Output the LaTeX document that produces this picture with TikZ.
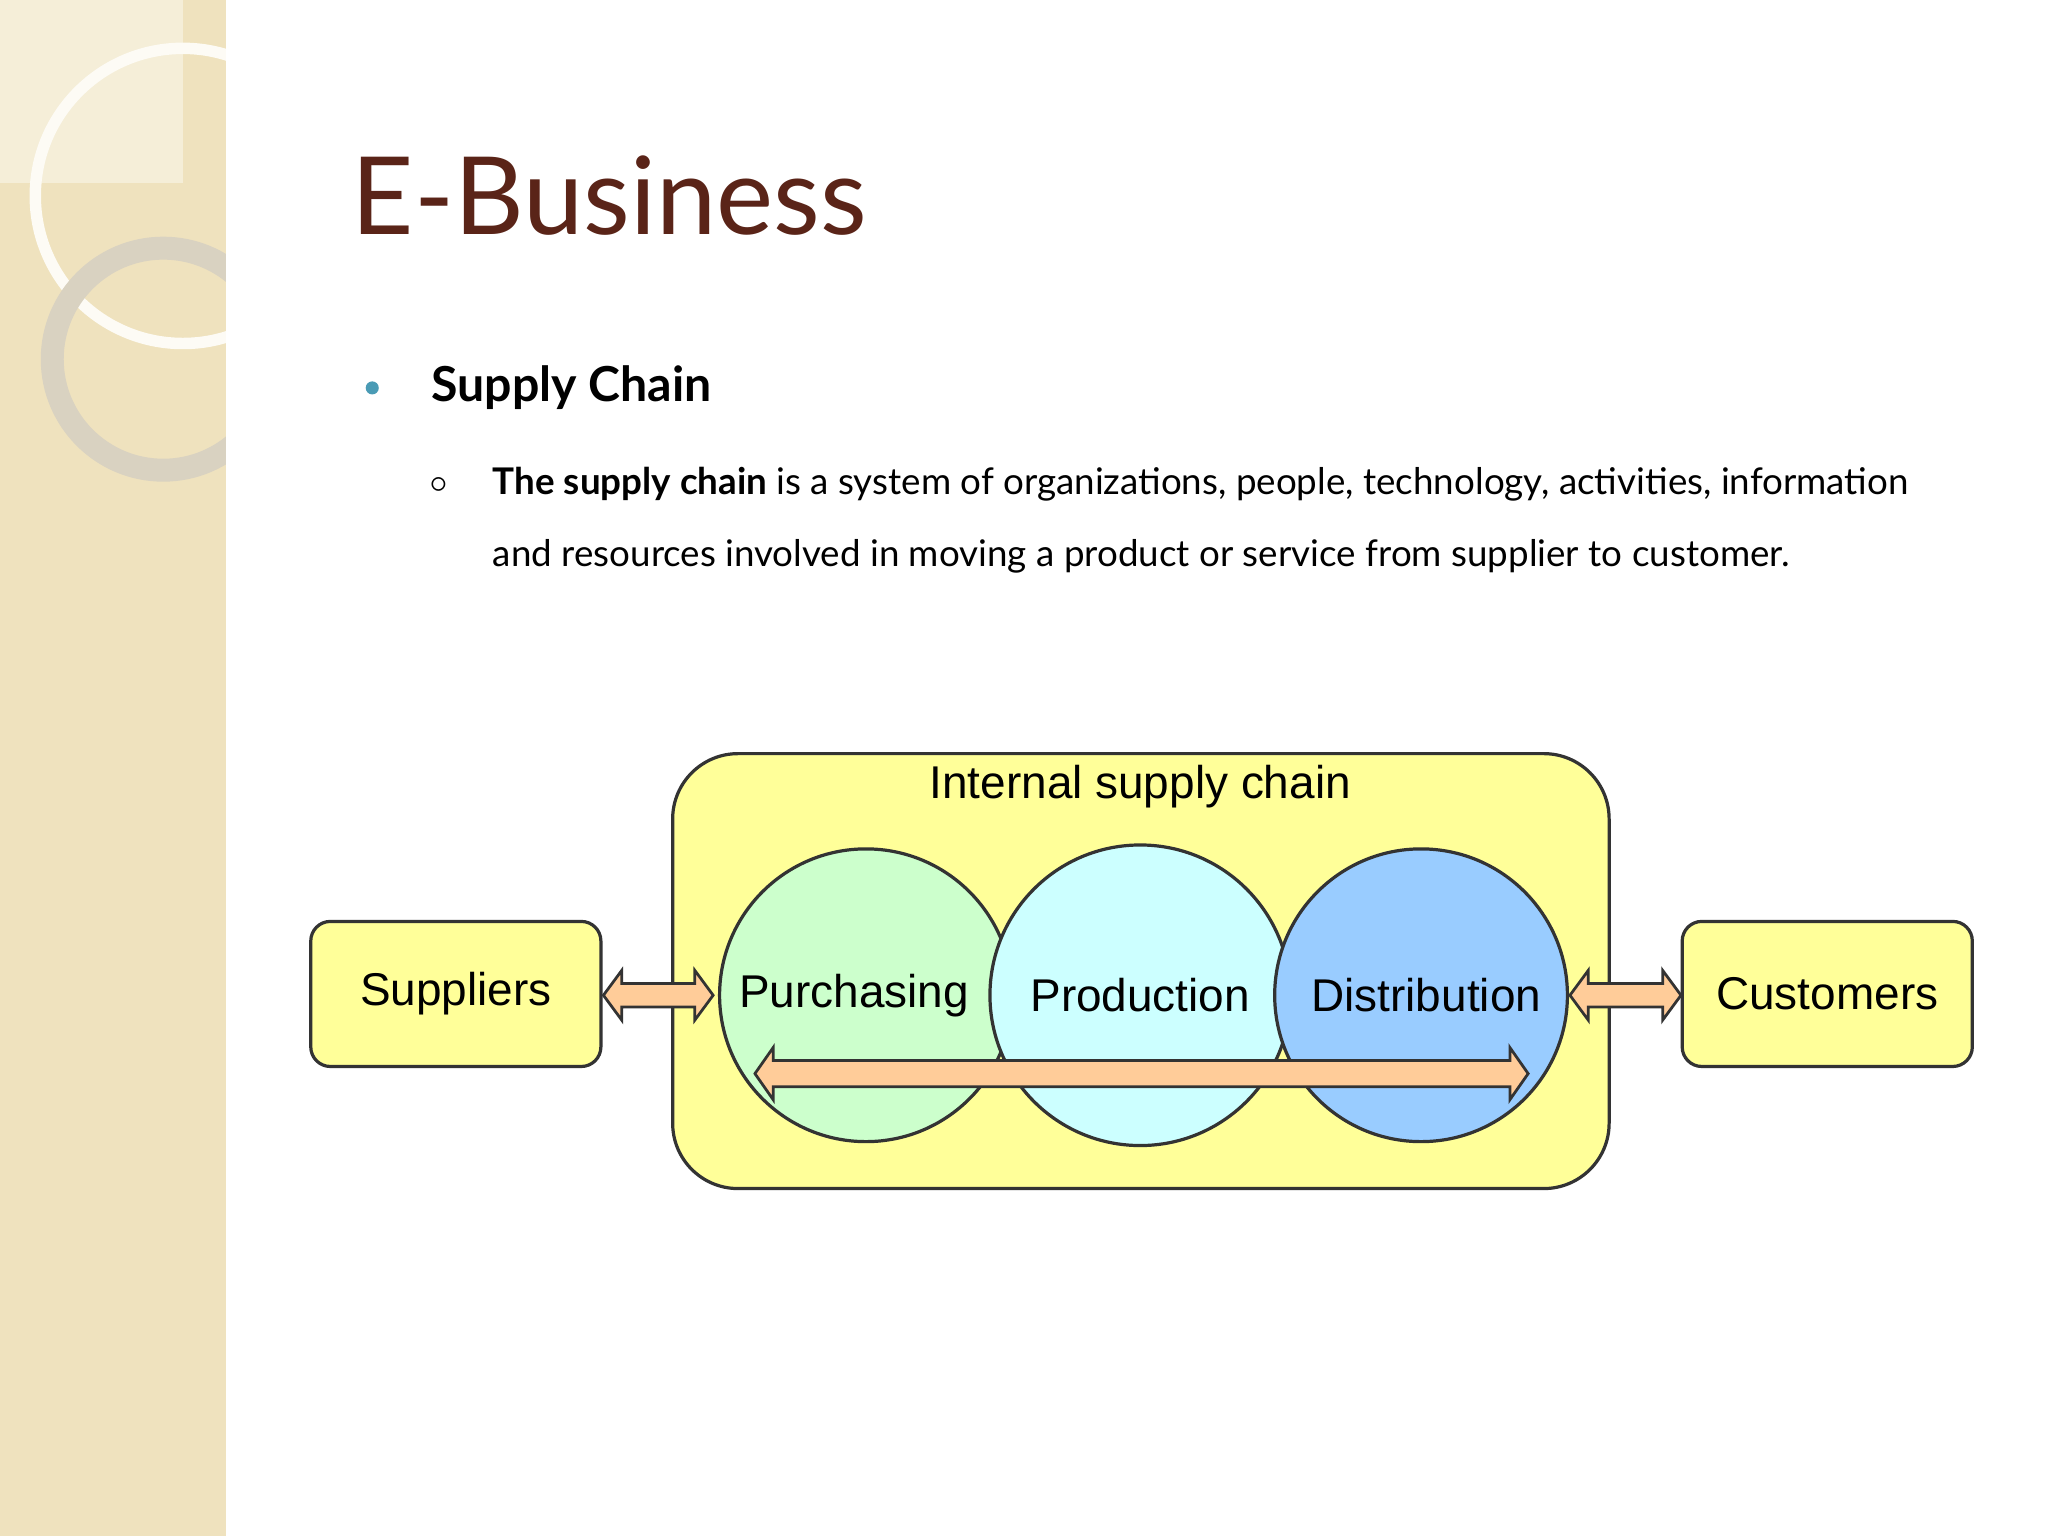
\documentclass[tikz,border=0pt]{standalone}
\usepackage{fontspec}
\setmainfont{Lato}
\newfontfamily\arialf{Liberation Sans}
\usetikzlibrary{calc}
\definecolor{strip}{HTML}{EFE2BE}
\definecolor{titlec}{HTML}{5A2418}
\definecolor{boxy}{HTML}{FFFF99}
\definecolor{cgreen}{HTML}{CCFFCC}
\definecolor{ccyan}{HTML}{CCFFFF}
\definecolor{cblue}{HTML}{99CCFF}
\definecolor{arr}{HTML}{FFCC99}
\definecolor{bul}{HTML}{4A9BB5}
\newcommand{\mydarr}[4]{% from, to, shaft half, head half
  \draw[darr] (#1) -- ++(14,-#4) -- ++(0,#4-#3) -- ($(#2)+(-14,-#3)$) -- ++(0,#3-#4) -- (#2)
   -- ++(-14,#4) -- ++(0,#3-#4) -- ($(#1)+(14,#3)$) -- ++(0,#4-#3) -- cycle;}
\begin{document}
\begin{tikzpicture}[x=0.01cm,y=-0.01cm,
  lbl/.style={font=\arialf\fontsize{10}{12}\selectfont},
  ybox/.style={draw=black!80,line width=0.7pt,fill=boxy,rounded corners=0.15cm},
  circ/.style={circle,draw=black!80,line width=0.7pt},
  darr/.style={draw=black!80,line width=0.6pt,fill=arr,line join=miter}]
\useasboundingbox (0,0) rectangle (1568,1176);
\fill[white] (0,0) rectangle (1568,1176);
\fill[strip] (0,0) rectangle (173,1176);
\begin{scope}
\clip (0,0) rectangle (173,1176);
\fill[strip!60!white] (0,0) rectangle (140,140);
\draw[white!85!strip,line width=2.5pt] (140,150) circle (113);
\draw[strip!80!black!60!white,line width=5pt] (125,275) circle (85);
\end{scope}
\node[anchor=west,text=titlec,font=\fontsize{23.5}{28}\selectfont] (title) at (257,150) {E-Business};
\fill[bul] (285,297) circle (5);
\node[anchor=west,font=\bfseries\fontsize{10.5}{12}\selectfont] (sc) at (318,297) {Supply Chain};
\node[font=\fontsize{7}{8}\selectfont] (sb) at (336,371) {$\circ$};
\node[anchor=west,font=\fontsize{8}{10}\selectfont] (l1) at (365,371) {\textbf{The supply chain} is a system of organizations, people, technology, activities, information};
\node[anchor=west,font=\fontsize{8}{10}\selectfont] (l2) at (365,426) {and resources involved in moving a product or service from supplier to customer.};
\draw[ybox,rounded corners=0.5cm] (515,577) rectangle (1232,910);
\node[lbl] (isc) at (873,602) {Internal supply chain};
\node[circ,fill=cgreen,minimum size=2.24cm] (pur) at (663,762) {};
\node[circ,fill=ccyan,minimum size=2.3cm] (pro) at (873,762) {};
\node[circ,fill=cblue,minimum size=2.24cm] (dis) at (1088,762) {};
\node[lbl] at (654,762) {Purchasing};
\node[lbl] at (873,762) {Production};
\node[lbl] at (1092,762) {Distribution};
\node[ybox,lbl,minimum width=2.22cm,minimum height=1.11cm] (sup) at (349,761) {Suppliers};
\node[ybox,lbl,minimum width=2.22cm,minimum height=1.11cm] (cus) at (1399,761) {Customers};
\coordinate (a1l) at (462,762); \coordinate (a1r) at (546,762);
\coordinate (a2l) at (1202,762); \coordinate (a2r) at (1287,762);
\coordinate (a3l) at (578,822); \coordinate (a3r) at (1170,822);
\mydarr{a1l}{a1r}{9}{19}
\mydarr{a2l}{a2r}{9}{19}
\mydarr{a3l}{a3r}{10}{20}
\end{tikzpicture}
\end{document}
